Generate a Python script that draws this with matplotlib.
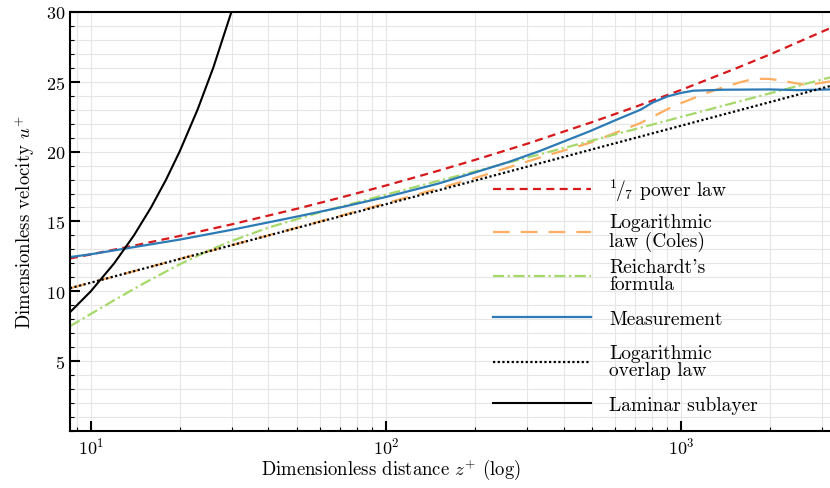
import numpy as np
import matplotlib
matplotlib.use("Agg")
import matplotlib.pyplot as plt
from matplotlib.legend import Legend
from matplotlib.ticker import LogLocator, MultipleLocator, NullFormatter, FixedLocator

plt.rcParams['font.family'] = 'serif'
plt.rcParams['font.serif'] = ['cmr10']
plt.rcParams['mathtext.fontset'] = 'cm'
plt.rcParams['axes.formatter.use_mathtext'] = True
plt.rcParams['axes.unicode_minus'] = False

# 1/7 power law
z_pow = [8.5, 10, 15, 20, 30, 50, 70, 100, 150, 200, 300, 500, 700, 1000, 1500, 2000, 3200]
u_pow = [12.35, 12.64, 13.40, 13.96, 14.79, 15.91, 16.70, 17.57, 18.62, 19.40, 20.55,
         22.11, 23.20, 24.41, 25.87, 26.95, 28.83]

# logarithmic law with wake (Coles)
z_coles = [8.5, 20, 50, 100, 150, 200, 250, 330, 490, 730, 940, 1220, 1400, 1580, 1700,
           1850, 2000, 2170, 2350, 2600, 2850, 3200]
u_coles = [10.22, 12.31, 14.55, 16.30, 17.35, 18.10, 18.75, 19.55, 20.62, 22.05, 23.24,
           24.19, 24.62, 24.95, 25.12, 25.21, 25.20, 25.10, 24.96, 24.80, 24.85, 25.02]

# Reichardt's formula
z_reich = [8.5, 10, 12, 15, 20, 25, 30, 40, 60, 100, 200, 500, 1000, 2000, 3200]
u_reich = [7.50, 8.38, 9.36, 10.53, 11.93, 12.90, 13.60, 14.56, 15.66, 16.92, 18.58,
           20.79, 22.48, 24.17, 25.31]

# measurement
z_meas = [8.5, 10, 13, 20, 30, 50, 70, 100, 150, 200, 260, 330, 490, 600, 730, 800, 900,
          1000, 1100, 1400, 2000, 2500, 3200]
u_meas = [12.45, 12.65, 13.05, 13.70, 14.40, 15.35, 16.00, 16.75, 17.70, 18.50, 19.25,
          20.02, 21.45, 22.25, 23.00, 23.50, 23.95, 24.20, 24.36, 24.43, 24.45, 24.40, 24.45]

# logarithmic overlap law
z_log = [8.5, 20, 50, 100, 200, 500, 1000, 2000, 3200]
u_log = [10.22, 12.31, 14.54, 16.23, 17.92, 20.16, 21.85, 23.54, 24.69]

# laminar sublayer
z_lam = [8.5, 10, 12, 14, 16, 18, 20, 23, 26, 30.5]
u_lam = [8.5, 10, 12, 14, 16, 18, 20, 23, 26, 30.5]

labels = [r'$^{1}\!/_{7}$ power law', 'Logarithmic\nlaw (Coles)', "Reichardt's\nformula",
          'Measurement', 'Logarithmic\noverlap law', 'Laminar sublayer']

fig = plt.figure(figsize=(8.3, 4.89), dpi=100)
ax = fig.add_axes([0.0843, 0.1166, 0.9157, 0.857])

l1, = ax.plot(z_pow, u_pow, color='#d7191c', lw=1.6, dashes=(3.6, 2.4))
l2, = ax.plot(z_coles, u_coles, color='#fdae61', lw=1.6, dashes=(7.5, 5))
l3, = ax.plot(z_reich, u_reich, color='#a6d96a', lw=1.6, dashes=(5, 1.6, 1, 1.6))
l4, = ax.plot(z_meas, u_meas, color='#2c7bb6', lw=1.6)
l5, = ax.plot(z_log, u_log, color='black', lw=1.6, dashes=(1, 1.1))
l6, = ax.plot(z_lam, u_lam, color='black', lw=1.5)

ax.set_xscale('log')
ax.set_xlim(8.5, 3200)
ax.set_ylim(0, 30)
ax.yaxis.set_major_locator(FixedLocator([5, 10, 15, 20, 25, 30]))
ax.yaxis.set_minor_locator(MultipleLocator(1))
ax.xaxis.set_major_locator(LogLocator(base=10))
ax.xaxis.set_minor_locator(LogLocator(base=10, subs=np.arange(2, 10)))
ax.xaxis.set_minor_formatter(NullFormatter())

ax.grid(True, which='both', color='#e6e6e6', lw=0.8)
ax.set_axisbelow(True)
ax.tick_params(which='both', direction='in', top=False, right=False, labelsize=13)
ax.tick_params(which='major', length=7, width=1.5)
ax.tick_params(which='minor', length=3, width=0.8)
for s in ['left', 'bottom', 'top']:
    ax.spines[s].set_linewidth(1.5)
ax.spines['right'].set_visible(False)

ax.set_xlabel(r'Dimensionless distance $z^{+}$ (log)', fontsize=13.5)
ax.xaxis.set_label_coords(0.422, -0.062)
ax.set_ylabel(r'Dimensionless velocity $u^{+}$', fontsize=13.5, labelpad=6)

# one legend per entry so entries are evenly spaced
ycent = [0.575, 0.475, 0.371, 0.267, 0.166, 0.063]
for h, lab, yc in zip([l1, l2, l3, l4, l5, l6], labels, ycent):
    leg = Legend(ax, [h], [lab], loc='center left', bbox_to_anchor=(0.557, yc),
                 frameon=False, fontsize=14, handlelength=5.0, handletextpad=0.95,
                 borderpad=0, borderaxespad=0)
    for t in leg.get_texts():
        t.set_linespacing(0.95)
    ax.add_artist(leg)

fig.savefig('out.png', dpi=100)
